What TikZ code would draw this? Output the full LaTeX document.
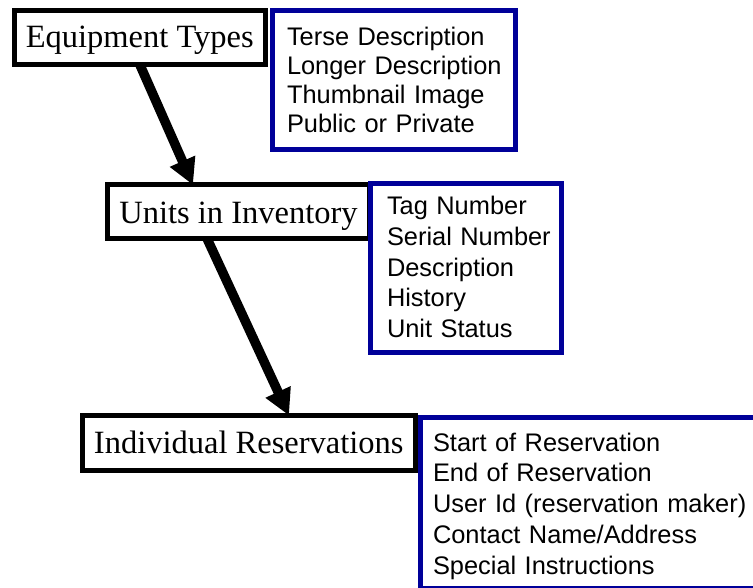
\documentclass[tikz,border=0pt]{standalone}
\usepackage{fontspec}
\setmainfont{Liberation Serif}
\setsansfont{Liberation Sans}
\usetikzlibrary{arrows.meta}
\definecolor{boxblue}{RGB}{0,0,153}
\tikzset{
  entity/.style={draw=black, line width=5pt, inner sep=0pt, outer sep=0pt,
    anchor=north west, font=\fontsize{32.5pt}{38pt}\selectfont},
  attrs/.style={draw=boxblue, line width=5pt, inner ysep=0pt, outer sep=0pt,
    anchor=north west, align=left,
    font=\sffamily\fontsize{25.4pt}{30.8pt}\selectfont},
  link/.style={draw=black, line width=9.5pt,
    -{Triangle[length=26pt,width=26pt]}}
}
\begin{document}
\begin{tikzpicture}[x=1pt,y=-1pt]
\useasboundingbox (0,0) rectangle (753,588);
\clip (0,0) rectangle (753,588);
% entity boxes
\node[entity, minimum width=251.5pt, text height=37.5pt, text depth=17pt]
  (et) at (14,10.5) {Equipment Types};
\node[entity, minimum width=262pt, text height=38.3pt, text depth=15.2pt]
  (ui) at (107.5,185) {Units in Inventory};
\node[entity, minimum width=333.5pt, text height=37.8pt, text depth=17.2pt]
  (ir) at (82,415.5) {Individual Reservations};
% attribute boxes
\node[attrs, inner xsep=15pt, text width=213pt, text height=34.5pt, text depth=104.5pt,
  font=\sffamily\fontsize{25.4pt}{29pt}\selectfont]
  (ea) at (272,11) {\mbox{Terse Description}\\\mbox{Longer Description}\\\mbox{Thumbnail Image}\\\mbox{Public or Private}};
\node[attrs, inner xsep=16.5pt, text width=158pt, text height=30.6pt, text depth=137.9pt]
  (ua) at (370.5,184) {\mbox{Tag Number}\\\mbox{Serial Number}\\\mbox{Description}\\\mbox{History}\\\mbox{Unit Status}};
\node[attrs, inner xsep=12.5pt, text width=324.5pt, text height=33.5pt, text depth=137pt]
  (ra) at (420.5,417.5) {\mbox{Start of Reservation}\\\mbox{End of Reservation}\\\mbox{User Id (reservation maker)}\\\mbox{Contact Name/Address}\\\mbox{Special Instructions}};
% connectors
\draw[link] ([xshift=126pt]et.south west) -- ([xshift=85.5pt]ui.north west);
\draw[link] ([xshift=99.5pt]ui.south west) -- ([xshift=207pt]ir.north west);
\end{tikzpicture}
\end{document}
